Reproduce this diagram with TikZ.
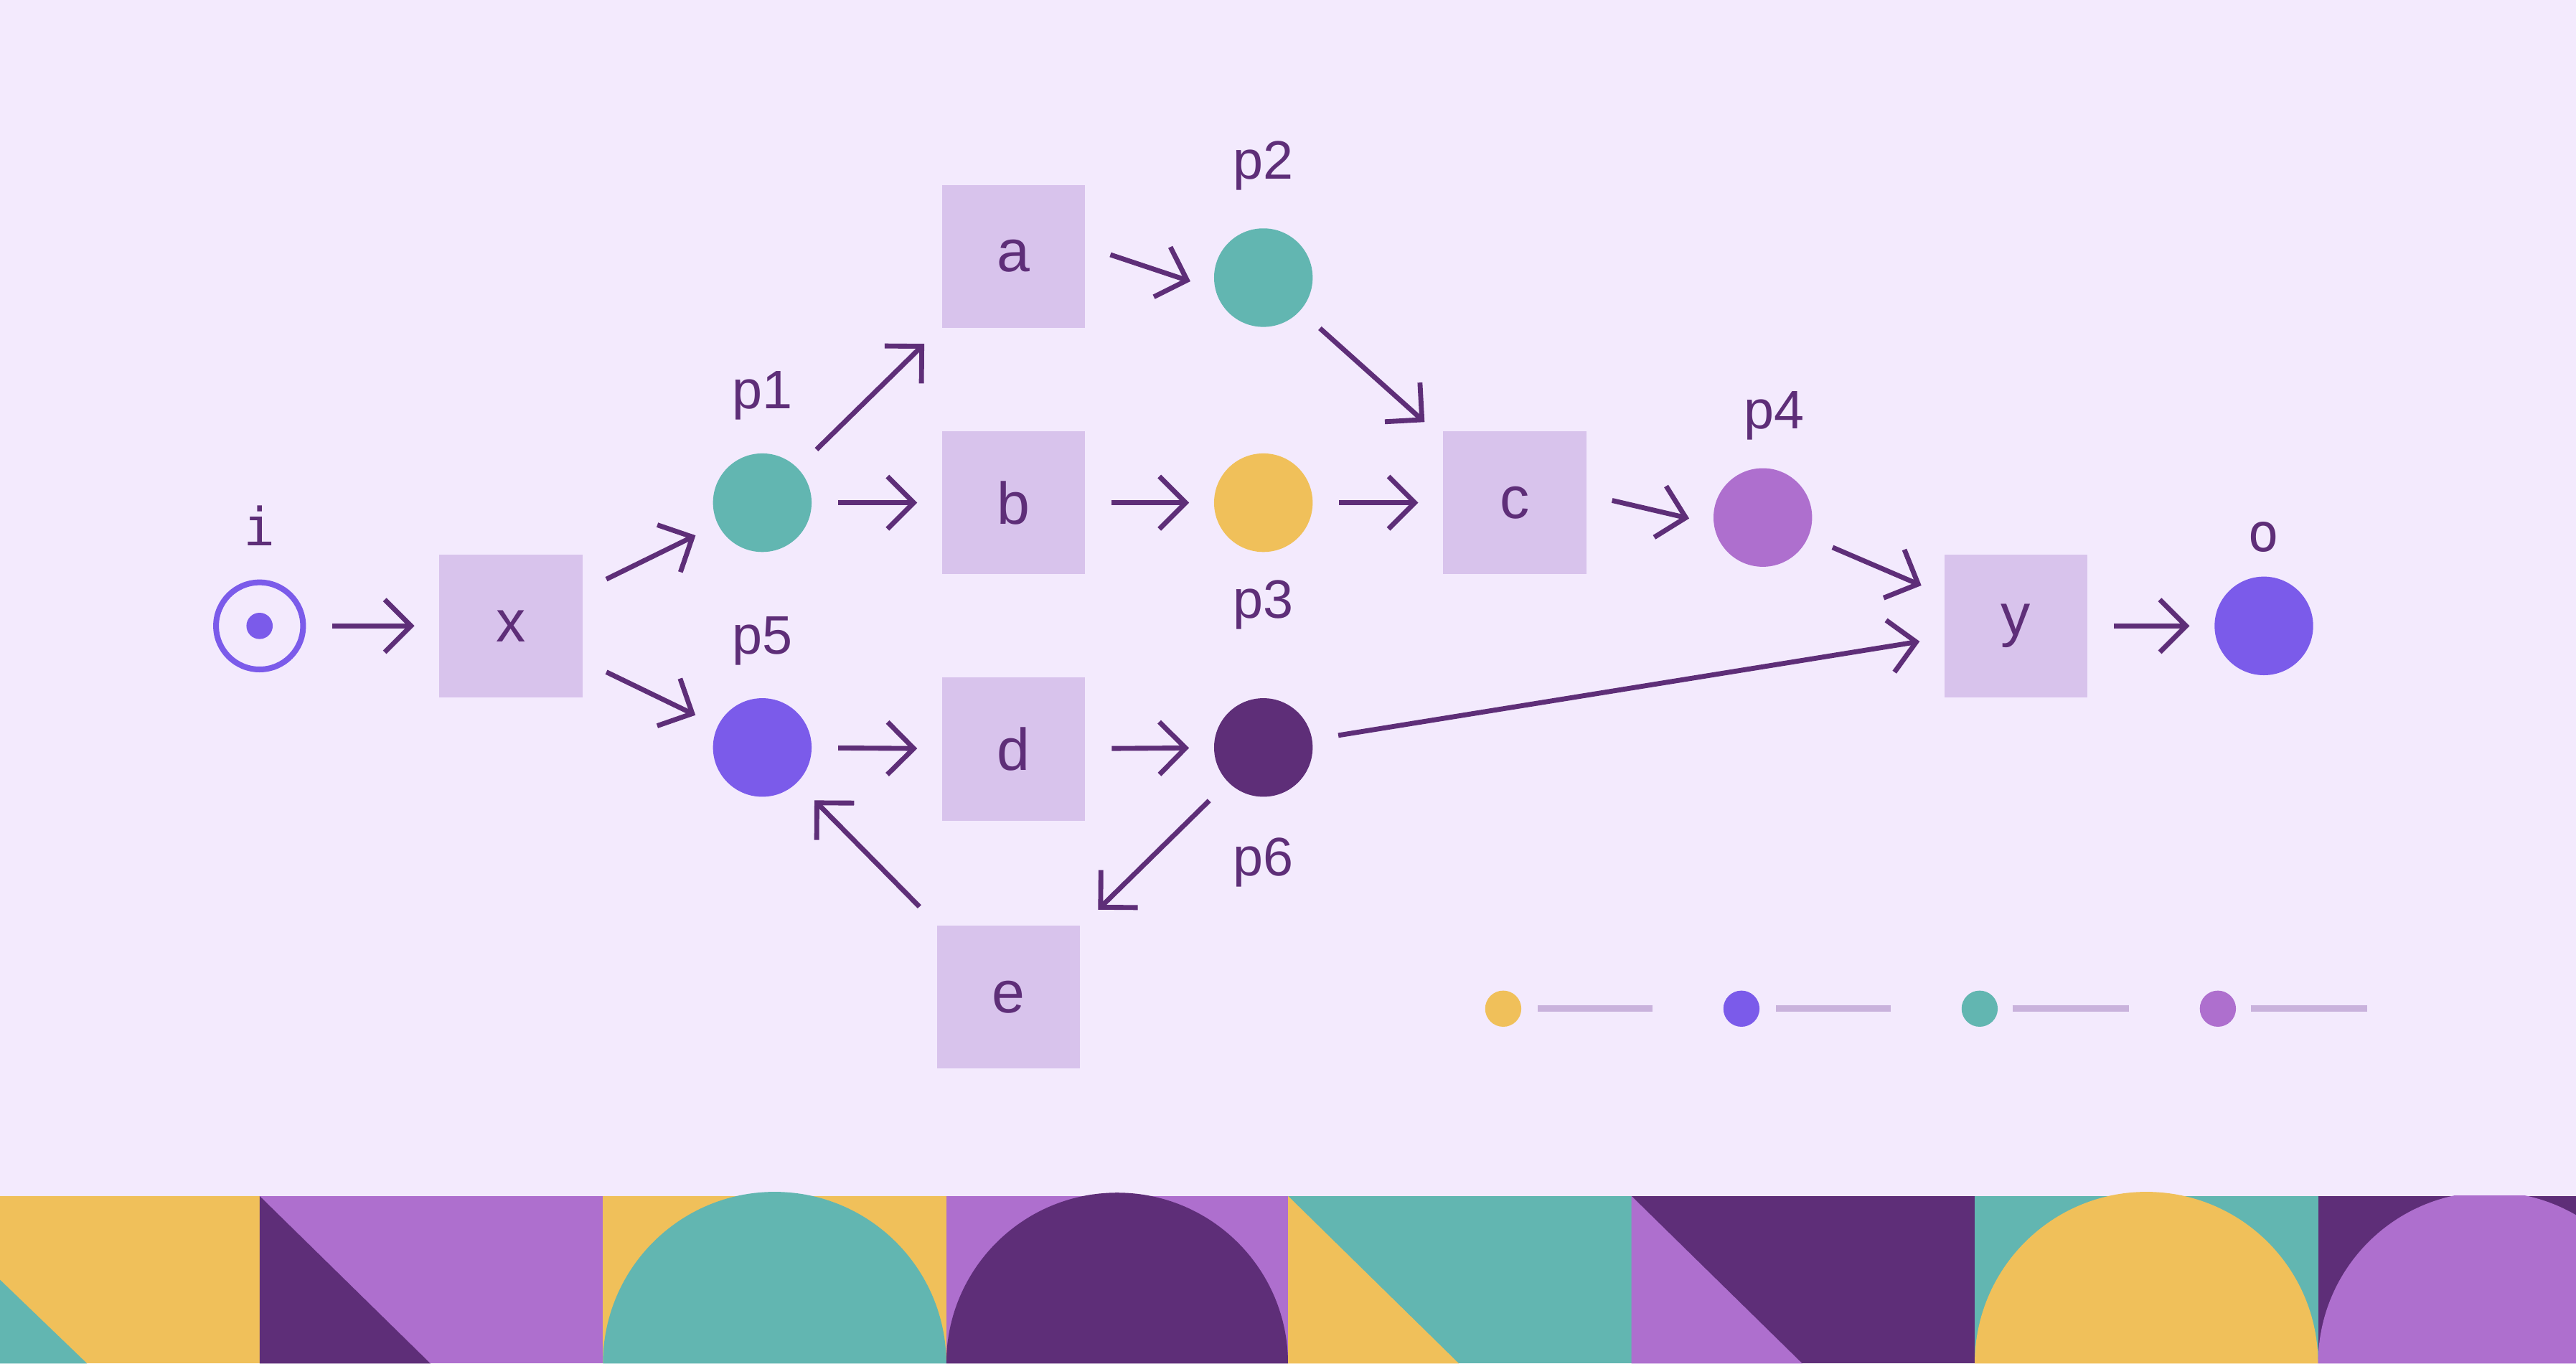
\documentclass[tikz,border=0pt]{standalone}
\usepackage{fontspec}
\setmainfont{Liberation Sans}
\newfontfamily\monof{DejaVu Sans Mono}
\usetikzlibrary{arrows.meta}
\definecolor{bgc}{HTML}{F3EAFD}
\definecolor{ylw}{HTML}{F0C05A}
\definecolor{tea}{HTML}{62B6B1}
\definecolor{lpu}{HTML}{AE6FCE}
\definecolor{dpu}{HTML}{5E2E78}
\definecolor{vio}{HTML}{7B5BEA}
\definecolor{boxc}{HTML}{D8C3EC}
\definecolor{legl}{HTML}{C9B2DC}
\tikzset{
 trans/.style={fill=boxc,minimum size=87pt,inner sep=0pt,text=dpu,font=\fontsize{36}{40}\selectfont},
 place/.style={circle,minimum size=60pt,inner sep=0pt},
 lbl/.style={text=dpu,font=\fontsize{33}{38}\selectfont},
 arc/.style={draw=dpu,line width=3pt,-{Straight Barb[length=16pt,width=32pt,line width=3pt]},shorten <=16pt,shorten >=15pt},
 legline/.style={draw=legl,line width=4pt}
}
\begin{document}
\begin{tikzpicture}[x=1pt,y=-1pt]
\fill[bgc] (0,0) rectangle (1568,830);
\useasboundingbox (0,0) rectangle (1568,830);
% band
\fill[ylw] (0,728) rectangle (158,830);
\fill[tea] (0,779) -- (53,830) -- (0,830) -- cycle;
\fill[lpu] (158,728) rectangle (367,830);
\fill[dpu] (158,728) -- (262,830) -- (158,830) -- cycle;
\fill[ylw] (367,728) rectangle (576,830);
\fill[tea] (367,830) arc[start angle=180,end angle=360,radius=104.5];
\fill[lpu] (576,728) rectangle (784,830);
\fill[dpu] (576,830) arc[start angle=180,end angle=360,radius=104];
\fill[tea] (784,728) rectangle (993,830);
\fill[ylw] (784,728) -- (888,830) -- (784,830) -- cycle;
\fill[dpu] (993,728) rectangle (1202,830);
\fill[lpu] (993,728) -- (1097,830) -- (993,830) -- cycle;
\fill[tea] (1202,728) rectangle (1411,830);
\fill[ylw] (1202,830) arc[start angle=180,end angle=360,radius=104.5];
\fill[dpu] (1411,728) rectangle (1568,830);
\begin{scope}
\clip (1411,728) rectangle (1568,830);
\fill[lpu] (1411,830) arc[start angle=180,end angle=360,radius=104.5];
\end{scope}
% nodes
\node[circle,draw=vio,line width=3.5pt,minimum size=53pt,inner sep=0pt] (i) at (158,381) {};
\fill[vio] (i.center) circle (8pt);
\node[text=dpu,font=\monof\fontsize{32}{38}\selectfont] (il) at (158,320) {i};
\node[trans] (x) at (311,381) {x};
\node[place,fill=tea] (p1) at (464,306) {};
\node[lbl] (p1l) at (464,241) {p1};
\node[place,fill=vio] (p5) at (464,455) {};
\node[lbl] (p5l) at (464,390) {p5};
\node[trans] (a) at (617,156) {a};
\node[trans] (b) at (617,306) {b};
\node[trans] (d) at (617,456) {d};
\node[trans] (e) at (614,607) {e};
\node[place,fill=tea] (p2) at (769,169) {};
\node[lbl] (p2l) at (769,101) {p2};
\node[place,fill=ylw] (p3) at (769,306) {};
\node[lbl] (p3l) at (769,368) {p3};
\node[place,fill=dpu] (p6) at (769,455) {};
\node[lbl] (p6l) at (769,525) {p6};
\node[trans] (c) at (922,306) {c};
\node[place,fill=lpu] (p4) at (1073,315) {};
\node[lbl] (p4l) at (1080,253) {p4};
\node[trans] (y) at (1227,381) {y};
\node[place,fill=vio] (o) at (1378,381) {};
\node[text=dpu,font=\monof\fontsize{32}{38}\selectfont] (ol) at (1378,327) {o};
% arcs
\draw[arc] (i) -- (x);
\draw[arc] (x) -- (p1);
\draw[arc] (x) -- (p5);
\draw[arc] (p1) -- (a);
\draw[arc] (p1) -- (b);
\draw[arc] (p5) -- (d);
\draw[arc] ([yshift=6pt]a.east) -- ([yshift=-7pt]p2.west);
\draw[arc] (b) -- (p3);
\draw[arc] (p2) -- (c);
\draw[arc] (p3) -- (c);
\draw[arc] ([yshift=5pt]c.east) -- ([yshift=-4pt]p4.west);
\draw[arc] (p4) -- (y);
\draw[arc] (p6) -- (y);
\draw[arc] (d) -- (p6);
\draw[arc] (p6) -- (e);
\draw[arc] (e) -- (p5);
\draw[arc] (y) -- (o);
% legend
\node[circle,fill=ylw,minimum size=22pt,inner sep=0pt] (l1) at (915,614) {};
\node[circle,fill=vio,minimum size=22pt,inner sep=0pt] (l2) at (1060,614) {};
\node[circle,fill=tea,minimum size=22pt,inner sep=0pt] (l3) at (1205,614) {};
\node[circle,fill=lpu,minimum size=22pt,inner sep=0pt] (l4) at (1350,614) {};
\draw[legline] (936,614) -- (1006,614);
\draw[legline] (1081,614) -- (1151,614);
\draw[legline] (1225,614) -- (1296,614);
\draw[legline] (1370,614) -- (1441,614);
\end{tikzpicture}
\end{document}
